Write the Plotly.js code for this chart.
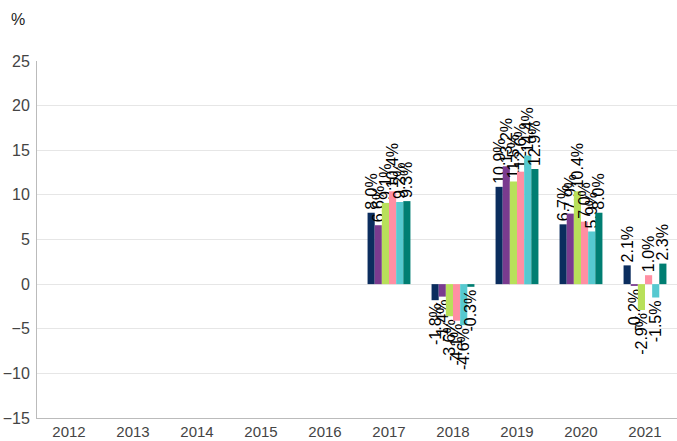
<!DOCTYPE html>
<html><head><meta charset="utf-8">
<script src="https://cdn.plot.ly/plotly-3.0.1.min.js"></script>
<style>body{margin:0;padding:0;background:#fff}#chart{width:677px;height:441px}</style>
</head><body><div id="chart"></div>
<script>
var years = ['2012','2013','2014','2015','2016','2017','2018','2019','2020','2021'];
var s1 = [null,null,null,null,null, 8.0, -1.8, 10.9, 6.7, 2.1];
var s2 = [null,null,null,null,null, 6.6, -1.4, 13.2, 7.9, -0.2];
var s3 = [null,null,null,null,null, 9.1, -3.6, 11.5, 10.4, -2.9];
var s4 = [null,null,null,null,null, 10.4, -4.1, 12.6, 7.0, 1.0];
var s5 = [null,null,null,null,null, 9.2, -4.6, 14.4, 5.9, -1.5];
var s6 = [null,null,null,null,null, 9.3, -0.3, 12.9, 8.0, 2.3];
var colors = ['#0b2d5e','#7a3b8f','#b8e05a','#ff8fa3','#56c9d0','#007e72'];
var series = [s1,s2,s3,s4,s5,s6];
var lblFont = {family:'Liberation Sans, Arial, sans-serif', size:16, color:'#000'};
var traces = series.map(function(v,i){
  return {
    type:'bar', x: years, y: v, marker:{color:colors[i]},
    text: v.map(function(d){return d===null?'':d.toFixed(1)+'%';}),
    textposition:'outside', textangle:-90, constraintext:'none', cliponaxis:false,
    textfont:lblFont, outsidetextfont:lblFont,
    hoverinfo:'none', showlegend:false
  };
});
Plotly.newPlot('chart', traces, {
  width:677, height:441,
  margin:{l:37, r:0, t:61, b:23},
  barmode:'group', bargap:0.33, bargroupgap:0,
  paper_bgcolor:'#fff', plot_bgcolor:'#fff',
  font:{family:'Liberation Sans, Arial, sans-serif', size:16, color:'#444'},
  xaxis:{type:'category', showline:true, linecolor:'#bbb', linewidth:1, showgrid:false,
    ticks:'', tickfont:{size:15, color:'#444'}, fixedrange:true},
  yaxis:{range:[-15,25], tickvals:[-15,-10,-5,0,5,10,15,20,25], showline:true, linecolor:'#bbb', linewidth:1,
    showgrid:true, gridcolor:'#e6e6e6', zeroline:false, ticks:'', tickfont:{size:16,color:'#444'}, ticklabelstandoff:3},
  annotations:[{text:'%', xref:'paper', yref:'paper', x:-0.043, y:1.0, yshift:42, xanchor:'left', yanchor:'middle',
    showarrow:false, font:{size:16, color:'#222'}}]
}, {staticPlot:true});
</script></body></html>
